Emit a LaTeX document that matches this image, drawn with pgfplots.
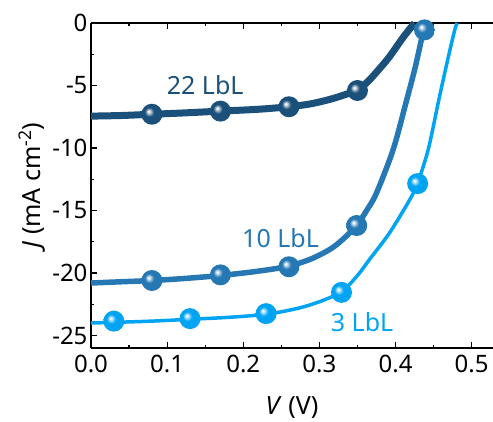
\documentclass[border=0pt]{standalone}
\usepackage{fontspec}
\setmainfont{Noto Sans}
\usepackage{pgfplots}
\pgfplotsset{compat=1.18}
\definecolor{cdark}{RGB}{26,80,121}
\definecolor{cmed}{RGB}{38,120,180}
\definecolor{clight}{RGB}{0,164,243}
\pgfdeclareradialshading{balldark}{\pgfpoint{-8bp}{7bp}}{color(0bp)=(white); color(2bp)=(white!90!cdark); color(6bp)=(cdark!50!white); color(11bp)=(cdark); color(50bp)=(cdark)}
\pgfdeclareradialshading{ballmed}{\pgfpoint{-8bp}{7bp}}{color(0bp)=(white); color(2bp)=(white!90!cmed); color(6bp)=(cmed!50!white); color(11bp)=(cmed); color(50bp)=(cmed)}
\pgfdeclareradialshading{balllight}{\pgfpoint{-8bp}{7bp}}{color(0bp)=(white); color(2bp)=(white!90!clight); color(6bp)=(clight!50!white); color(11bp)=(clight); color(50bp)=(clight)}
\pgfdeclareplotmark{bdark}{\pgfpathcircle{\pgfpointorigin}{\pgfplotmarksize}\pgfshadepath{balldark}{0}\pgfusepath{discard}}
\pgfdeclareplotmark{bmed}{\pgfpathcircle{\pgfpointorigin}{\pgfplotmarksize}\pgfshadepath{ballmed}{0}\pgfusepath{discard}}
\pgfdeclareplotmark{blight}{\pgfpathcircle{\pgfpointorigin}{\pgfplotmarksize}\pgfshadepath{balllight}{0}\pgfusepath{discard}}
\begin{document}
\begin{tikzpicture}[font=\fontsize{25}{29}\selectfont]
\begin{axis}[
  name=ax,
  scale only axis,
  width=402pt, height=325pt,
  xmin=0, xmax=0.528, ymin=-26, ymax=0,
  axis x line*=box, axis y line*=left,
  clip=false,
  tick align=inside,
  xtick={0,0.1,0.2,0.3,0.4,0.5},
  xticklabels={0.0,0.1,0.2,0.3,0.4,0.5},
  ytick={-25,-20,-15,-10,-5,0},
  yticklabels={-25,-20,-15,-10,-5,0},
  minor x tick num=1, minor y tick num=1,
  major tick length=6pt, minor tick length=3.5pt,
  every tick/.style={line width=1.2pt, black},
  axis line style={line width=1.3pt},
  /pgf/number format/assume math mode=true,
  ticklabel style={font=\fontsize{24}{28}\selectfont},
  xticklabel style={yshift=-4pt},
  label style={font=\fontsize{25}{29}\selectfont},
  xlabel style={yshift=-17pt},
  xlabel={\textit{V} (V)},
  ylabel={\textit{J} (mA cm\textsuperscript{-2})},
]
% 3 LbL
\addplot[clight, line width=3.5pt, smooth, tension=0.5] coordinates {
(0,-24.0)(0.03,-23.95)(0.08,-23.85)(0.13,-23.7)(0.18,-23.55)(0.23,-23.3)(0.27,-22.85)(0.30,-22.3)(0.329,-21.5)(0.35,-20.2)(0.366,-18.9)(0.392,-16.8)(0.419,-14.1)(0.429,-12.8)(0.443,-10.1)(0.457,-6.1)(0.469,-2.8)(0.478,-0.5)(0.481,0)};
% 10 LbL
\addplot[cmed, line width=5.5pt, smooth, tension=0.5] coordinates {
(0,-20.8)(0.04,-20.7)(0.08,-20.6)(0.12,-20.45)(0.17,-20.2)(0.22,-19.85)(0.26,-19.45)(0.29,-18.85)(0.314,-18.1)(0.33,-17.35)(0.349,-16.2)(0.362,-15.0)(0.375,-13.6)(0.397,-10.1)(0.414,-6.3)(0.426,-3.5)(0.437,-0.5)(0.44,0)};
% 22 LbL
\addplot[cdark, line width=7pt, smooth, tension=0.5] coordinates {
(0,-7.45)(0.04,-7.4)(0.08,-7.3)(0.12,-7.2)(0.17,-7.05)(0.22,-6.9)(0.26,-6.7)(0.29,-6.45)(0.32,-6.0)(0.35,-5.35)(0.365,-4.6)(0.379,-3.65)(0.392,-2.7)(0.41,-1.15)(0.425,0)};
% markers
\addplot[only marks, mark=blight, mark size=10.5pt] coordinates {
(0.03,-23.85)(0.13,-23.65)(0.23,-23.25)(0.329,-21.55)(0.429,-12.85)};
\addplot[only marks, mark=bmed, mark size=10.5pt] coordinates {
(0.08,-20.6)(0.17,-20.15)(0.26,-19.5)(0.349,-16.2)(0.438,-0.55)};
\addplot[only marks, mark=bdark, mark size=10.5pt] coordinates {
(0.08,-7.3)(0.17,-7.05)(0.26,-6.7)(0.35,-5.4)};
\node[text=cdark] at (axis cs:0.15,-5.0) {22 LbL};
\node[text=cmed] at (axis cs:0.249,-17.2) {10 LbL};
\node[text=clight] at (axis cs:0.356,-23.9) {3 LbL};
\end{axis}
\pgfresetboundingbox
\path ([shift={(-91pt,-73pt)}]ax.south west) rectangle ([shift={(0pt,23pt)}]ax.north east);
\end{tikzpicture}
\end{document}
